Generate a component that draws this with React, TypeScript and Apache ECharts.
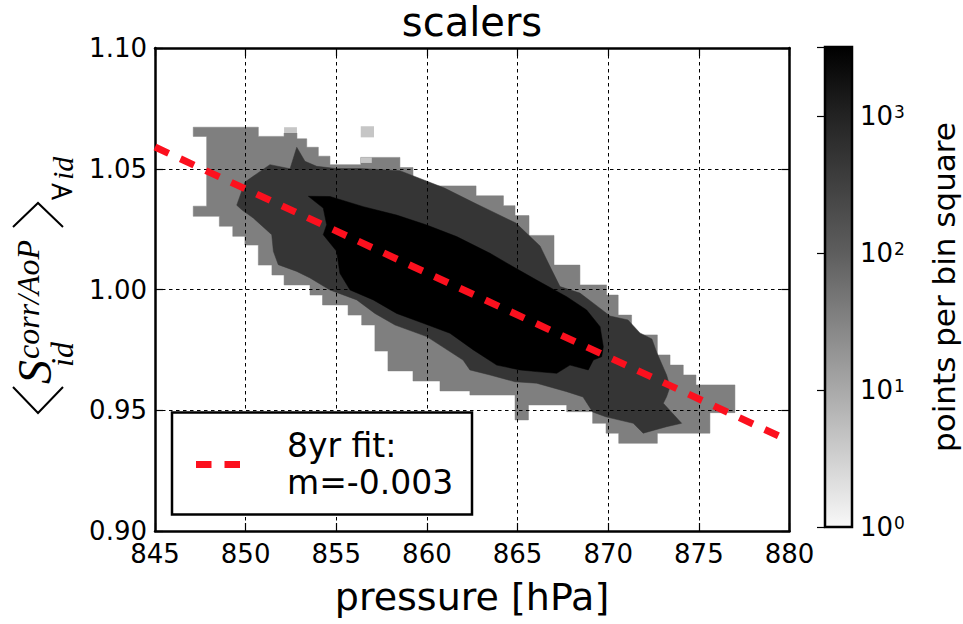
import React, { useEffect, useRef } from 'react';
import * as echarts from 'echarts';

const titleText = 'scalers';
const xAxisTitle = 'pressure [hPa]';
const colorbarTitle = 'points per bin square';
const legendLines = ['8yr fit:', 'm=-0.003'];

const pressureRange = [845, 880];
const pressureStep = 5;
const scalerRange = [0.9, 1.1];
const scalerStep = 0.05;
const countLogRange = [0, 3.505]; // log10(points per bin square)
const countLogStep = 1;

// 8yr linear fit, end points read at the plot borders
const fitPressure = [845, 880];
const fitScaler = [1.059, 0.9373];

// filled-contour regions of the 2D histogram: [pressure hPa, scaler]
const region10to100: number[][] = [
  [847.11, 1.0672], [850.7, 1.0672], [850.7, 1.0634], [852.12, 1.0634], [852.12, 1.0648], [852.83, 1.0648],
  [852.83, 1.0624], [853.37, 1.0624], [853.37, 1.0589], [854.01, 1.0589], [854.01, 1.0552], [854.65, 1.0552],
  [854.65, 1.0517], [856.35, 1.0517], [856.35, 1.0547], [858.51, 1.0547], [858.51, 1.0505], [859.23, 1.0505],
  [859.23, 1.0429], [862.71, 1.0429], [862.71, 1.0388], [864.22, 1.0388], [864.22, 1.0347], [864.86, 1.0347],
  [864.86, 1.0306], [865.63, 1.0306], [865.63, 1.0224], [867.01, 1.0224], [867.01, 1.0101], [868.44, 1.0101],
  [868.44, 1.0019], [869.91, 1.0019], [869.91, 0.9977], [870.55, 0.9977], [870.55, 0.9894], [871.29, 0.9894],
  [871.29, 0.9812], [872.71, 0.9812], [872.71, 0.9729], [873.41, 0.9729], [873.41, 0.9687], [874.14, 0.9687],
  [874.14, 0.9646], [874.84, 0.9646], [874.84, 0.9605], [876.99, 0.9605], [876.99, 0.949], [875.61, 0.949],
  [875.61, 0.9405], [872.71, 0.9405], [872.71, 0.9363], [870.58, 0.9363], [870.58, 0.9405], [869.88, 0.9405],
  [869.88, 0.9446], [869.14, 0.9446], [869.14, 0.9494], [867.71, 0.9494], [867.71, 0.9522], [865.6, 0.9522],
  [865.6, 0.946], [864.86, 0.946], [864.86, 0.9563], [862.37, 0.9563], [862.37, 0.958], [860.72, 0.958],
  [860.72, 0.9621], [859.23, 0.9621], [859.23, 0.9663], [857.85, 0.9663], [857.85, 0.9745], [857.13, 0.9745],
  [857.13, 0.9853], [856.4, 0.9853], [856.4, 0.9894], [855.65, 0.9894], [855.65, 0.9936], [854.24, 0.9936],
  [854.24, 0.9977], [853.55, 0.9977], [853.55, 1.0019], [852.12, 1.0019], [852.12, 1.006], [851.45, 1.006],
  [851.45, 1.0101], [850.7, 1.0101], [850.7, 1.0184], [849.96, 1.0184], [849.96, 1.022], [849.29, 1.022],
  [849.29, 1.0262], [848.55, 1.0262], [848.55, 1.0303], [847.11, 1.0303], [847.11, 1.0345], [847.85, 1.0345],
  [847.85, 1.0634], [847.11, 1.0634],
];

const region100to1000: number[][] = [
  [849.51, 1.0349], [849.96, 1.0445], [851.34, 1.0517], [852.45, 1.05], [852.82, 1.0589], [853.27, 1.0531],
  [853.92, 1.051], [854.98, 1.0501], [856.31, 1.0501], [858.51, 1.0492], [860.97, 1.042], [862.71, 1.0355],
  [864.91, 1.0275], [866.24, 1.018], [866.79, 1.0095], [867.34, 1.0012], [868.44, 0.9985], [869.43, 0.9929],
  [870.1, 0.989], [871.09, 0.9874], [871.75, 0.982], [872.41, 0.9795], [872.69, 0.9737], [873.22, 0.9646],
  [873.41, 0.9597], [873.22, 0.9556], [873.04, 0.9529], [874.05, 0.9446], [873.22, 0.9432], [871.93, 0.9405],
  [871.38, 0.9446], [869.86, 0.9473], [869.14, 0.9493], [868.61, 0.9555], [867.71, 0.9577], [866.05, 0.9612],
  [864.86, 0.9618], [863.48, 0.9646], [862.37, 0.9667], [861.99, 0.9708], [859.99, 0.9805], [858.24, 0.9853],
  [857.13, 0.9901], [856.13, 0.9957], [854.65, 0.9998], [853.55, 1.0048], [852.82, 1.0075], [851.8, 1.0103],
  [851.53, 1.0158], [851.44, 1.0227], [850.42, 1.0296], [849.8, 1.0329],
];

const regionAbove1000: number[][] = [
  [853.46, 1.0386], [854.65, 1.0385], [856.49, 1.0343], [858.33, 1.0308], [859.99, 1.0267], [861.64, 1.0219],
  [863.48, 1.015], [864.76, 1.0094], [866.05, 1.0039], [867.71, 0.997], [868.81, 0.9915], [869.55, 0.9846],
  [869.73, 0.9763], [869.64, 0.9722], [869.18, 0.9708], [868.9, 0.9667], [867.89, 0.9687], [867.16, 0.9653],
  [866.05, 0.966], [865.13, 0.9667], [863.85, 0.9687], [862.56, 0.975], [861.27, 0.9819], [859.8, 0.986],
  [858.33, 0.9901], [857.04, 0.9957], [855.76, 0.9998], [855.2, 1.0067], [855.02, 1.0158], [854.28, 1.0227],
  [854.47, 1.0268], [854.28, 1.0337],
];

// sparse bins (1-10 points): [p0, p1, s0, s1]
const region1to10Cells: number[][] = [
  [856.35, 857.08, 1.063, 1.0676],
  [852.12, 852.83, 1.0648, 1.0672],
  [856.35, 856.96, 1.0524, 1.0547],
];

const levelColors = { low: '#c6c6c6', mid: '#7f7f7f', high: '#353535', top: '#000000' };
const fitColor = '#fc101e';
const FONT = 'DejaVu Sans';

export default function App() {
  const ref = useRef<HTMLDivElement>(null);

  useEffect(() => {
    if (!ref.current) return;
    const chart = echarts.init(ref.current, undefined, { renderer: 'svg' });

    const regions: any[] = [
      { kind: 'poly', pts: region10to100, color: levelColors.mid },
      { kind: 'cells', cells: region1to10Cells, color: levelColors.low },
      { kind: 'poly', pts: region100to1000, color: levelColors.high },
      { kind: 'poly', pts: regionAbove1000, color: levelColors.top },
    ];

    const frameLine = { show: true, onZero: false, lineStyle: { color: '#000', width: 2.5 } };
    const inTick = { show: true, inside: true, length: 8, lineStyle: { color: '#000', width: 1.2 } };
    const gridSplit = { show: true, lineStyle: { color: '#000', width: 1, type: [3.5, 3.5] } };

    const option: any = {
      animation: false,
      backgroundColor: '#fff',
      textStyle: { fontFamily: FONT },
      grid: [
        { left: 155, top: 48, width: 634.5, height: 483, containLabel: false },
        { left: 825, top: 47, width: 27, height: 480, containLabel: false },
      ],
      xAxis: [
        {
          type: 'value', gridIndex: 0, min: pressureRange[0], max: pressureRange[1], interval: pressureStep,
          position: 'bottom', z: 3, axisLine: frameLine, axisTick: inTick,
          axisLabel: { fontSize: 26, lineHeight: 22, color: '#000', margin: 12, fontFamily: FONT },
          splitLine: gridSplit,
        },
        {
          type: 'value', gridIndex: 0, min: pressureRange[0], max: pressureRange[1], interval: pressureStep,
          position: 'top', z: 3, axisLine: frameLine, axisTick: inTick, axisLabel: { show: false },
          splitLine: { show: false },
        },
        { type: 'value', gridIndex: 1, min: 0, max: 1, show: false },
      ],
      yAxis: [
        {
          type: 'value', gridIndex: 0, min: scalerRange[0], max: scalerRange[1], interval: scalerStep,
          position: 'left', z: 3, axisLine: frameLine, axisTick: inTick,
          axisLabel: {
            fontSize: 26, lineHeight: 20, color: '#000', margin: 8, fontFamily: FONT,
            formatter: (v: number) => v.toFixed(2),
          },
          splitLine: gridSplit,
        },
        {
          type: 'value', gridIndex: 0, min: scalerRange[0], max: scalerRange[1], interval: scalerStep,
          position: 'right', z: 3, axisLine: frameLine, axisTick: inTick, axisLabel: { show: false },
          splitLine: { show: false },
        },
        {
          type: 'value', gridIndex: 1, min: countLogRange[0], max: countLogRange[1], interval: countLogStep,
          position: 'right', z: 3,
          axisLine: { show: false },
          axisTick: { show: true, inside: true, length: 8, lineStyle: { color: '#000', width: 1.2 } },
          splitLine: { show: false },
          axisLabel: {
            margin: 8,
            formatter: (v: number) => (Number.isInteger(v) ? `{b|10}{s|${v}}` : ''),
            rich: {
              b: { fontSize: 26, fontFamily: FONT, color: '#000', lineHeight: 26, verticalAlign: 'bottom' },
              s: { fontSize: 17, fontFamily: FONT, color: '#000', lineHeight: 15, verticalAlign: 'top', padding: [0, 0, 16, 1] },
            },
          },
        },
      ],
      series: [
        {
          type: 'custom',
          xAxisIndex: 0,
          yAxisIndex: 0,
          z: 1,
          silent: true,
          data: regions.map((_, i) => [i]),
          renderItem: (params: any, api: any) => {
            const r = regions[params.dataIndex];
            if (r.kind === 'poly') {
              return {
                type: 'polygon',
                shape: { points: r.pts.map((p: number[]) => api.coord(p)) },
                style: { fill: r.color, stroke: r.color, lineWidth: 0.5 },
              };
            }
            return {
              type: 'group',
              children: r.cells.map((c: number[]) => {
                const a = api.coord([c[0], c[3]]);
                const b = api.coord([c[1], c[2]]);
                return {
                  type: 'rect',
                  shape: { x: a[0], y: a[1], width: b[0] - a[0], height: b[1] - a[1] },
                  style: { fill: r.color },
                };
              }),
            };
          },
        },
        {
          type: 'line',
          xAxisIndex: 0,
          yAxisIndex: 0,
          z: 5,
          silent: true,
          symbol: 'none',
          data: fitPressure.map((p, i) => [p, fitScaler[i]]),
          lineStyle: { color: fitColor, width: 7, type: [15, 13], cap: 'butt' },
        },
        {
          type: 'custom',
          xAxisIndex: 2,
          yAxisIndex: 2,
          z: 1,
          silent: true,
          data: [[0]],
          renderItem: (_params: any, api: any) => {
            const a = api.coord([0, countLogRange[1]]);
            const b = api.coord([1, countLogRange[0]]);
            return {
              type: 'rect',
              shape: { x: a[0], y: a[1], width: b[0] - a[0], height: b[1] - a[1] },
              style: {
                fill: new echarts.graphic.LinearGradient(0, 0, 0, 1, [
                  { offset: 0, color: '#000000' },
                  { offset: 0.14, color: '#222222' },
                  { offset: 0.43, color: '#5e5e5e' },
                  { offset: 0.715, color: '#a9a9a9' },
                  { offset: 1, color: '#f8f8f8' },
                ]),
                stroke: '#000',
                lineWidth: 2.5,
              },
            };
          },
        },
      ],
      graphic: [
        {
          type: 'text', x: 472, y: 22, z: 100,
          style: { text: titleText, font: `40px "${FONT}"`, fill: '#000', align: 'center', verticalAlign: 'middle' },
        },
        {
          type: 'text', x: 472, y: 597, z: 100,
          style: { text: xAxisTitle, font: `38px "${FONT}"`, fill: '#000', align: 'center', verticalAlign: 'middle' },
        },
        {
          type: 'text', x: 944, y: 287, rotation: Math.PI / 2, z: 100,
          style: { text: colorbarTitle, font: `31px "${FONT}"`, fill: '#000', align: 'center', verticalAlign: 'middle' },
        },
        // y-axis label  <S_id^{corr/AoP}>_{forall id}
        {
          type: 'group', x: 0, y: 417, rotation: Math.PI / 2, z: 100,
          children: [
            { type: 'polyline', shape: { points: [[30, 13], [4, 38], [30, 63]] }, style: { stroke: '#000', lineWidth: 2, fill: null } },
            { type: 'text', x: 33, y: 34, style: { text: 'S', font: 'italic 48px "Liberation Serif"', fill: '#000', verticalAlign: 'middle' } },
            { type: 'text', x: 50, y: 62, style: { text: 'id', font: 'italic 32px "Liberation Serif"', fill: '#000', verticalAlign: 'middle' } },
            { type: 'text', x: 58, y: 28, style: { text: 'corr/AoP', font: 'italic 32px "Liberation Serif"', fill: '#000', verticalAlign: 'middle' } },
            { type: 'polyline', shape: { points: [[190, 13], [214, 38], [190, 63]] }, style: { stroke: '#000', lineWidth: 2, fill: null } },
            { type: 'text', x: 217, y: 62, style: { text: '\u2200', font: '28px "DejaVu Serif"', fill: '#000', verticalAlign: 'middle' } },
            { type: 'text', x: 237, y: 62, style: { text: 'id', font: 'italic 30px "Liberation Serif"', fill: '#000', verticalAlign: 'middle' } },
          ],
        },
        // legend
        {
          type: 'rect', z: 100,
          shape: { x: 172, y: 412.5, width: 300, height: 102 },
          style: { fill: '#fff', stroke: '#000', lineWidth: 2.5 },
        },
        {
          type: 'line', z: 101,
          shape: { x1: 196, y1: 464.5, x2: 240.5, y2: 464.5 },
          style: { stroke: fitColor, lineWidth: 7, lineDash: [15.5, 13] },
        },
        {
          type: 'text', x: 287, y: 445, z: 101,
          style: { text: legendLines[0], font: `33px "${FONT}"`, fill: '#000', verticalAlign: 'middle' },
        },
        {
          type: 'text', x: 287, y: 482, z: 101,
          style: { text: legendLines[1], font: `33px "${FONT}"`, fill: '#000', verticalAlign: 'middle' },
        },
      ],
    };

    chart.setOption(option);
    return () => chart.dispose();
  }, []);

  return (
    <div
      ref={ref}
      style={{ position: 'absolute', left: 0, top: 0, width: 963, height: 624, background: '#fff' }}
    />
  );
}
